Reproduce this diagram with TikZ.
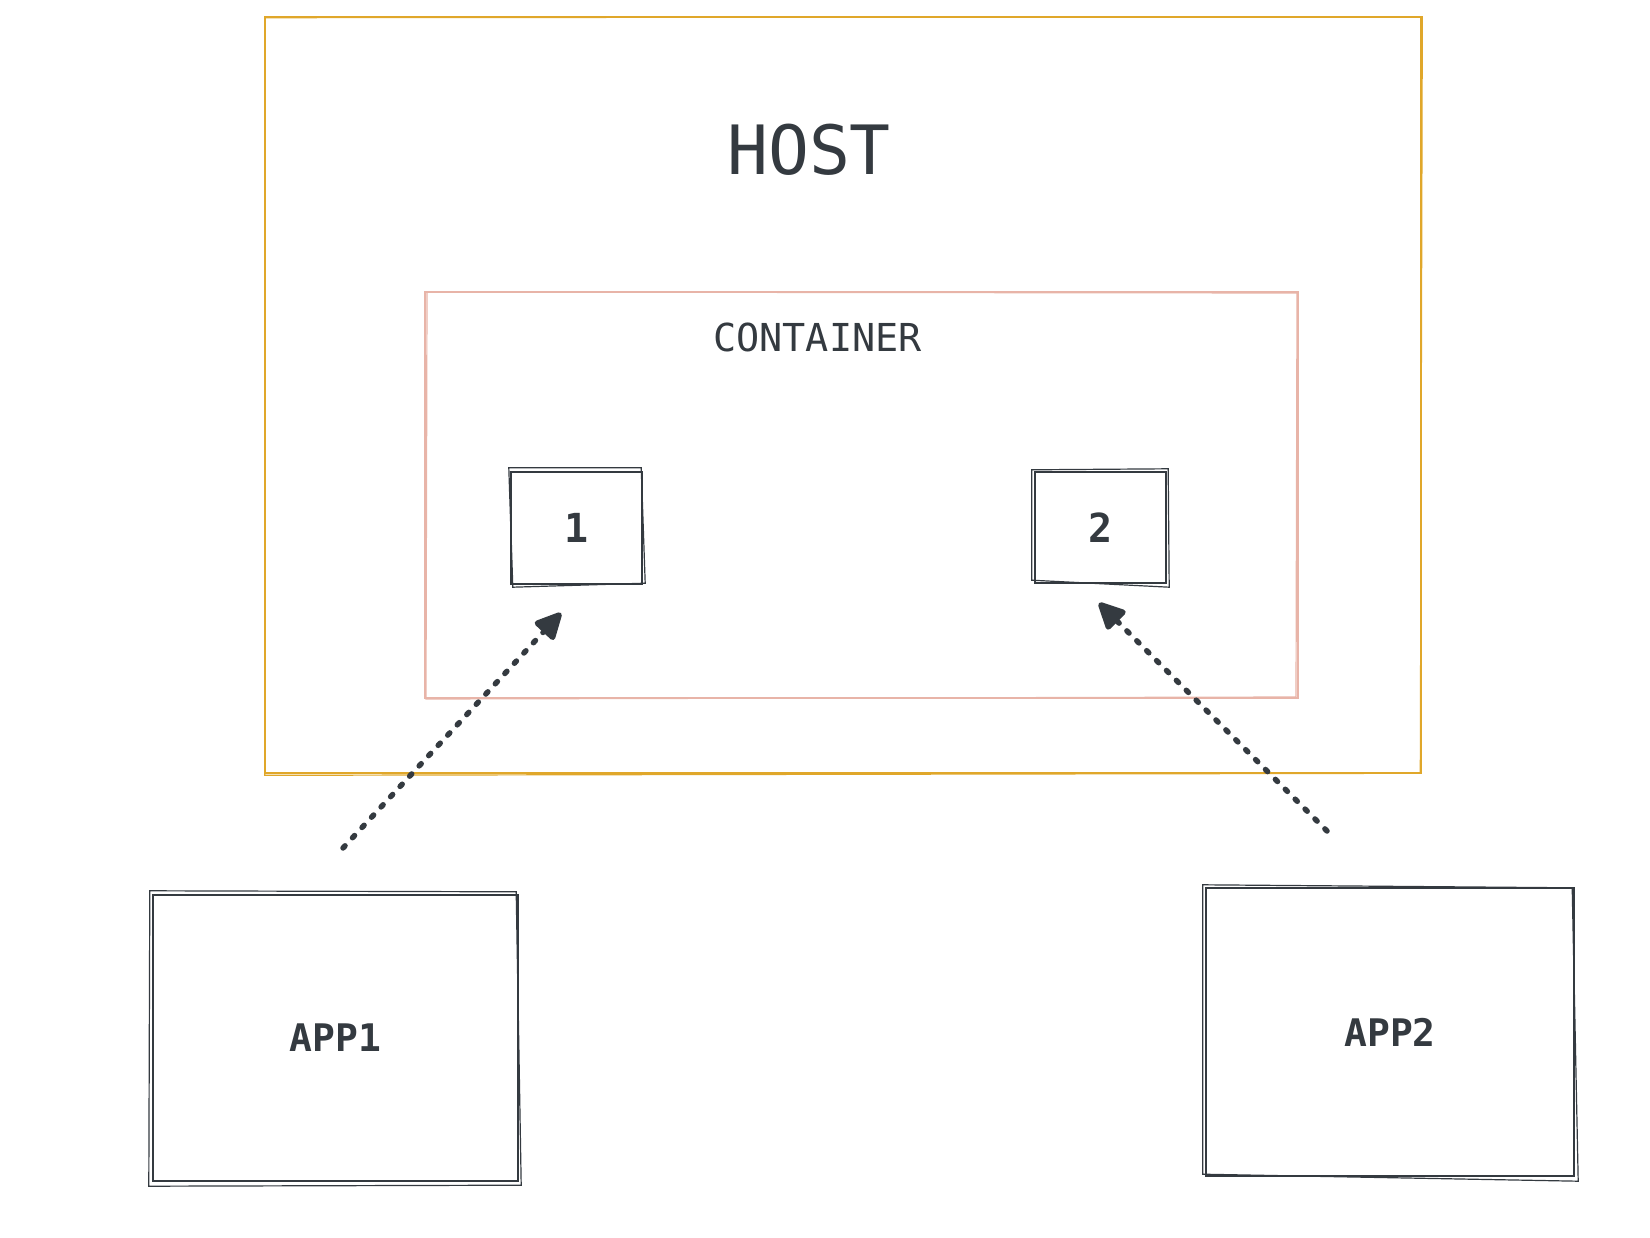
\documentclass[tikz,border=0pt]{standalone}
\usepackage{fontspec}
\setmonofont{DejaVu Sans Mono}
\usetikzlibrary{arrows.meta,calc}
\definecolor{ink}{RGB}{52,58,64}
\definecolor{hostc}{RGB}{224,167,42}
\definecolor{contc}{RGB}{232,180,168}
\tikzset{
  sketchbox/.style={draw=ink, line width=2.4pt, inner sep=0pt, text=ink,
    font=\ttfamily\bfseries\fontsize{38}{44}\selectfont},
  hostbox/.style={draw=hostc, line width=2.6pt, inner sep=0pt},
  contbox/.style={draw=contc, line width=2pt, inner sep=0pt},
  second/.style={line width=1.2pt},
  label/.style={text=ink, inner sep=0pt, anchor=base},
  dotarrow/.style={draw=ink, line width=5.5pt, line cap=round,
    dash pattern=on 3pt off 11pt,
    -{Triangle[length=30pt,width=28pt,round]}},
}
\begin{document}
\begin{tikzpicture}[x=1pt,y=-1pt]
\useasboundingbox (0,0) rectangle (1650,1238);

% host and container
\node[hostbox, minimum width=1156pt, minimum height=756pt] (host) at (843,395) {};
\draw[hostc, second] ($(host.north west)+(1,2)$) -- ($(host.north east)+(0,1)$) -- ($(host.south east)+(-2,-1)$) -- ($(host.south west)+(1,1)$) -- cycle;
\node[label, font=\ttfamily\fontsize{68}{80}\selectfont] (hosttext) at (809,175) {HOST};

\node[contbox, minimum width=873pt, minimum height=406pt] (cont) at (861.5,495) {};
\draw[contc, second] ($(cont.north west)+(3,1)$) -- ($(cont.north east)+(-2,2)$) -- ($(cont.south east)+(-3,-2)$) -- ($(cont.south west)+(2,0)$) -- cycle;
\node[label, font=\ttfamily\fontsize{38.5}{44}\selectfont] (conttext) at (817.5,352) {CONTAINER};

% ports
\node[sketchbox, minimum width=131pt, minimum height=112pt, font=\ttfamily\bfseries\fontsize{40}{46}\selectfont] (p1) at (576.5,528) {1};
\draw[ink, second] ($(p1.north west)+(-1,-3)$) -- ($(p1.north east)+(-2,-3)$) -- ($(p1.south east)+(2,-2)$) -- ($(p1.south west)+(3,2)$) -- cycle;
\node[sketchbox, minimum width=131pt, minimum height=111pt, font=\ttfamily\bfseries\fontsize{40}{46}\selectfont] (p2) at (1100.5,527.5) {2};
\draw[ink, second] ($(p2.north west)+(-2,-1)$) -- ($(p2.north east)+(1,-2)$) -- ($(p2.south east)+(2,3)$) -- ($(p2.south west)+(-2,-4)$) -- cycle;

% apps
\node[sketchbox, minimum width=365pt, minimum height=286pt] (app1) at (335.5,1038) {APP1};
\draw[ink, second] ($(app1.north west)+(-2,-3)$) -- ($(app1.north east)+(-3,-2)$) -- ($(app1.south east)+(2,3)$) -- ($(app1.south west)+(-3,4)$) -- cycle;
\node[sketchbox, minimum width=368pt, minimum height=288pt] (app2) at (1390,1032) {APP2};
\draw[ink, second] ($(app2.north west)+(-2,-2)$) -- ($(app2.north east)+(-3,1)$) -- ($(app2.south east)+(3,4)$) -- ($(app2.south west)+(-2,-3)$) -- cycle;

% arrows
\coordinate (s1) at (343,848);
\coordinate (t1) at (561,613);
\coordinate (s2) at (1327,831);
\coordinate (t2) at (1099,603);
\draw[dotarrow] (s1) -- (t1);
\draw[dotarrow] (s2) -- (t2);
\end{tikzpicture}
\end{document}
